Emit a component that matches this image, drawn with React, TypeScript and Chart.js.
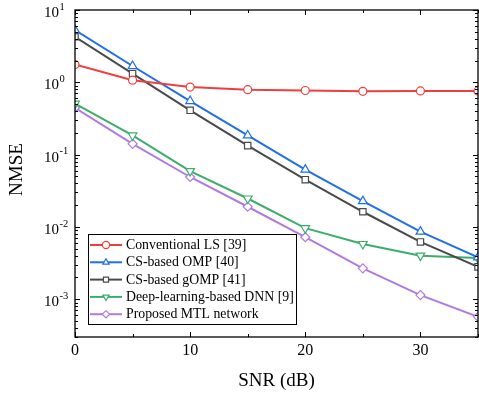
import React, { useEffect, useRef } from "react";
import { Chart, registerables } from "chart.js";

Chart.register(...registerables);

const snr = [0, 5, 10, 15, 20, 25, 30, 35];
const lsNmse = [1.76, 1.07, 0.86, 0.79, 0.77, 0.75, 0.76, 0.76];
const ompNmse = [5.27, 1.68, 0.55, 0.184, 0.062, 0.0227, 0.0086, 0.0038];
const gompNmse = [4.27, 1.32, 0.41, 0.133, 0.045, 0.0162, 0.0062, 0.0028];
const dnnNmse = [0.506, 0.184, 0.059, 0.0247, 0.0096, 0.0058, 0.004, 0.0037];
const mtlNmse = [0.445, 0.141, 0.049, 0.019, 0.0072, 0.00267, 0.00114, 0.00057];

const seriesLabels = [
  "Conventional LS [39]",
  "CS-based OMP [40]",
  "CS-based gOMP [41]",
  "Deep-learning-based DNN [9]",
  "Proposed MTL network",
];
const seriesValues = [lsNmse, ompNmse, gompNmse, dnnNmse, mtlNmse];
const seriesColors = ["#F03E3E", "#1F6FE5", "#4A4A4A", "#3DAD6C", "#B07BE0"];
const seriesMarkers = ["circle", "triangle", "rect", "triangle", "rectRot"];
const seriesRotations = [0, 0, 0, 180, 0];
const seriesRadius = [4, 5, 4.5, 5, 4.5];

const xMajorTicks = [0, 10, 20, 30];
const xMinorTicks = [5, 15, 25, 35];
const yDecades = [-3, -2, -1, 0, 1];

const FONT = "'Liberation Serif', 'Times New Roman', serif";

function drawMarker(ctx: CanvasRenderingContext2D, style: string, x: number, y: number, r: number, rot: number) {
  ctx.beginPath();
  if (style === "circle") {
    ctx.arc(x, y, r, 0, Math.PI * 2);
  } else if (style === "triangle") {
    const s = rot === 180 ? -1 : 1;
    ctx.moveTo(x, y - s * r);
    ctx.lineTo(x + r * 0.866, y + s * r * 0.5);
    ctx.lineTo(x - r * 0.866, y + s * r * 0.5);
    ctx.closePath();
  } else if (style === "rect") {
    const h = r * Math.SQRT1_2;
    ctx.rect(x - h, y - h, 2 * h, 2 * h);
  } else if (style === "rectRot") {
    ctx.moveTo(x, y - r);
    ctx.lineTo(x + r, y);
    ctx.lineTo(x, y + r);
    ctx.lineTo(x - r, y);
    ctx.closePath();
  }
  ctx.fillStyle = "#ffffff";
  ctx.fill();
  ctx.stroke();
}

const framePlugin = {
  id: "framePlugin",
  afterDraw(chart: any) {
    const ctx: CanvasRenderingContext2D = chart.ctx;
    const { left, right, top, bottom } = chart.chartArea;
    const xs = chart.scales.x;
    const ys = chart.scales.y;
    ctx.save();
    ctx.strokeStyle = "#000";
    ctx.lineWidth = 1.3;
    ctx.strokeRect(left, top, right - left, bottom - top);

    ctx.lineWidth = 1;
    ctx.beginPath();
    xMajorTicks.forEach((v) => {
      const px = Math.round(xs.getPixelForValue(v)) + 0.5;
      ctx.moveTo(px, bottom);
      ctx.lineTo(px, bottom - 5);
      ctx.moveTo(px, top);
      ctx.lineTo(px, top + 5);
    });
    xMinorTicks.forEach((v) => {
      const px = Math.round(xs.getPixelForValue(v)) + 0.5;
      ctx.moveTo(px, bottom);
      ctx.lineTo(px, bottom - 3);
      ctx.moveTo(px, top);
      ctx.lineTo(px, top + 3);
    });
    for (let e = -4; e <= 1; e++) {
      for (let m = 1; m <= 9; m++) {
        const v = m * Math.pow(10, e);
        if (v < ys.min * 0.999 || v > ys.max * 1.001) continue;
        const py = Math.round(ys.getPixelForValue(v)) + 0.5;
        const len = m === 1 ? 5 : 3;
        ctx.moveTo(left, py);
        ctx.lineTo(left + len, py);
        ctx.moveTo(right, py);
        ctx.lineTo(right - len, py);
      }
    }
    ctx.stroke();

    ctx.fillStyle = "#000";
    ctx.font = `16px ${FONT}`;
    ctx.textAlign = "center";
    ctx.textBaseline = "middle";
    xMajorTicks.forEach((v) => {
      ctx.fillText(String(v), xs.getPixelForValue(v), 351);
    });

    yDecades.forEach((e) => {
      const py = ys.getPixelForValue(Math.pow(10, e));
      ctx.font = `15px ${FONT}`;
      ctx.textAlign = "left";
      ctx.textBaseline = "middle";
      const x0 = 44;
      ctx.fillText("10", x0, py + 3);
      const w = ctx.measureText("10").width;
      ctx.font = `10.5px ${FONT}`;
      ctx.fillText(String(e), x0 + w + 0.5, py - 3);
    });

    ctx.font = `19px ${FONT}`;
    ctx.textAlign = "center";
    ctx.textBaseline = "middle";
    ctx.fillText("SNR (dB)", (left + right) / 2, 381);
    ctx.save();
    ctx.translate(17, (top + bottom) / 2 - 4);
    ctx.rotate(-Math.PI / 2);
    ctx.fillText("NMSE", 0, 0);
    ctx.restore();

    const bx = 88, by = 234, bw = 208, bh = 90;
    ctx.fillStyle = "#fff";
    ctx.fillRect(bx, by, bw, bh);
    ctx.strokeStyle = "#000";
    ctx.lineWidth = 1;
    ctx.strokeRect(bx + 0.5, by + 0.5, bw, bh);
    chart.data.datasets.forEach((ds: any, i: number) => {
      const ry = 245 + i * 17.3;
      ctx.strokeStyle = ds.borderColor;
      ctx.lineWidth = 2;
      ctx.beginPath();
      ctx.moveTo(90, ry);
      ctx.lineTo(122, ry);
      ctx.stroke();
      ctx.lineWidth = 1.2;
      drawMarker(ctx, seriesMarkers[i], 106, ry, 3.6, seriesRotations[i]);
      ctx.fillStyle = "#000";
      ctx.font = `13.8px ${FONT}`;
      ctx.textAlign = "left";
      ctx.textBaseline = "middle";
      ctx.fillText(ds.label, 126, ry + 0.5);
    });
    ctx.restore();
  },
};

export default function App() {
  const ref = useRef<HTMLCanvasElement | null>(null);
  useEffect(() => {
    if (!ref.current) return;
    const chart = new Chart(ref.current, {
      type: "line",
      data: {
        datasets: seriesLabels.map((label, i) => ({
          label,
          data: snr.map((x, j) => ({ x, y: seriesValues[i][j] })),
          borderColor: seriesColors[i],
          backgroundColor: "#ffffff",
          pointBackgroundColor: "#ffffff",
          pointBorderColor: seriesColors[i],
          pointStyle: seriesMarkers[i] as any,
          pointRotation: seriesRotations[i],
          pointRadius: seriesRadius[i],
          pointBorderWidth: 1.2,
          borderWidth: 2,
          tension: 0,
          fill: false,
        })),
      },
      options: {
        responsive: false,
        animation: false,
        devicePixelRatio: 1,
        layout: { autoPadding: false, padding: { top: 10, right: 1, left: 0, bottom: 0 } },
        plugins: { legend: { display: false }, tooltip: { enabled: false } },
        scales: {
          x: {
            type: "linear",
            min: 0,
            max: 35,
            ticks: { display: false },
            grid: { display: false },
            border: { display: false },
            afterFit(s: any) {
              s.height = 59;
            },
          },
          y: {
            type: "logarithmic",
            min: 3e-4,
            max: 10,
            ticks: { display: false },
            grid: { display: false },
            border: { display: false },
            afterFit(s: any) {
              s.width = 75;
            },
          },
        },
      },
      plugins: [framePlugin],
    });
    return () => chart.destroy();
  }, []);
  return (
    <div style={{ position: "absolute", left: 0, top: 0, width: 479, height: 396, background: "#fff" }}>
      <canvas ref={ref} width={479} height={396} />
    </div>
  );
}
